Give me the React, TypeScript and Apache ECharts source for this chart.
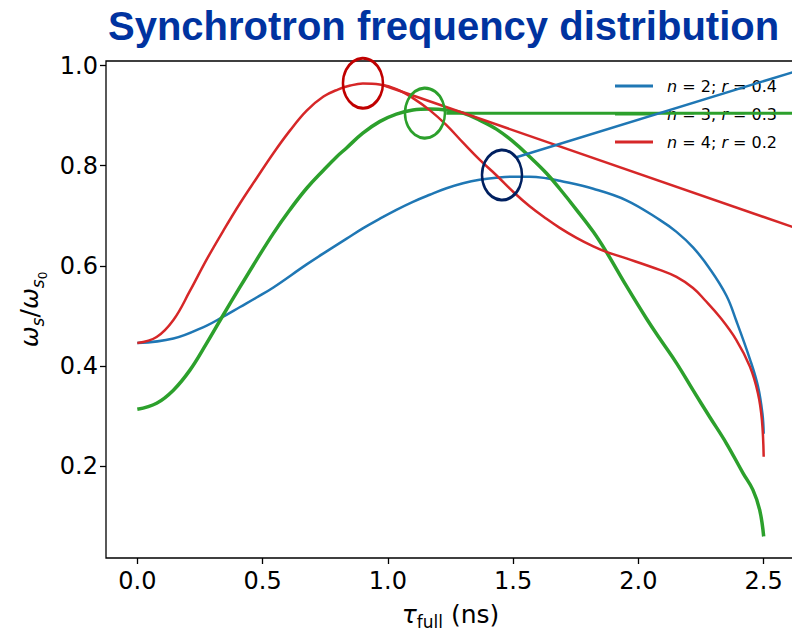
import React, { useEffect, useRef } from "react";
import * as echarts from "echarts";

// Tick values
const xTicks = [0, 0.5, 1.0, 1.5, 2.0, 2.5];
const yTicks = [0.2, 0.4, 0.6, 0.8, 1.0];

// Legend entries
const seriesNames = ["n = 2; r = 0.4", "n = 3; r = 0.3", "n = 4; r = 0.2"];
const legendN = ["2", "3", "4"];
const legendR = ["0.4", "0.3", "0.2"];

// n = 2; r = 0.4 (blue)
const blueX = [0, 0.144, 0.277, 0.337, 0.41, 0.476, 0.543, 0.676, 0.768, 0.834, 0.9, 0.967, 1.034, 1.1, 1.167, 1.234, 1.3, 1.366, 1.433, 1.5, 1.566, 1.633, 1.686, 1.82, 1.952, 2.085, 2.152, 2.218, 2.284, 2.351, 2.391, 2.445, 2.477, 2.495, 2.5];
const blueY = [0.446, 0.455, 0.481, 0.497, 0.518, 0.537, 0.557, 0.603, 0.633, 0.654, 0.675, 0.694, 0.712, 0.728, 0.742, 0.755, 0.765, 0.772, 0.776, 0.778, 0.778, 0.775, 0.77, 0.754, 0.731, 0.692, 0.668, 0.637, 0.595, 0.541, 0.49, 0.414, 0.36, 0.305, 0.265];

// n = 3; r = 0.3 (green)
const greenX = [0, 0.077, 0.144, 0.21, 0.277, 0.337, 0.41, 0.476, 0.543, 0.609, 0.676, 0.743, 0.796, 0.834, 0.9, 0.967, 1.034, 1.1, 1.167, 1.234, 1.3, 1.366, 1.433, 1.5, 1.566, 1.633, 1.686, 1.753, 1.82, 1.872, 1.952, 2.032, 2.085, 2.152, 2.218, 2.284, 2.351, 2.418, 2.457, 2.484, 2.5];
const greenY = [0.314, 0.326, 0.352, 0.392, 0.446, 0.497, 0.558, 0.612, 0.665, 0.712, 0.755, 0.791, 0.818, 0.835, 0.865, 0.888, 0.903, 0.911, 0.913, 0.911, 0.905, 0.891, 0.873, 0.848, 0.818, 0.785, 0.754, 0.712, 0.668, 0.628, 0.56, 0.495, 0.455, 0.406, 0.352, 0.299, 0.246, 0.186, 0.153, 0.113, 0.06];

// n = 4; r = 0.2 (red)
const redX = [0, 0.077, 0.144, 0.21, 0.277, 0.343, 0.41, 0.476, 0.543, 0.609, 0.676, 0.743, 0.8, 0.85, 0.9, 0.967, 1.034, 1.1, 1.167, 1.234, 1.3, 1.366, 1.433, 1.5, 1.566, 1.633, 1.686, 1.753, 1.82, 1.872, 1.952, 2.085, 2.152, 2.218, 2.265, 2.325, 2.391, 2.445, 2.477, 2.493, 2.5];
const redY = [0.446, 0.458, 0.492, 0.55, 0.613, 0.67, 0.725, 0.775, 0.825, 0.87, 0.91, 0.938, 0.952, 0.96, 0.964, 0.962, 0.953, 0.935, 0.911, 0.881, 0.846, 0.812, 0.781, 0.748, 0.719, 0.694, 0.676, 0.656, 0.639, 0.628, 0.615, 0.592, 0.578, 0.556, 0.532, 0.498, 0.452, 0.399, 0.346, 0.292, 0.219];

// Straight annotation lines (start, end)
const blueLineX = [1.513, 2.625];
const blueLineY = [0.817, 0.988];
const greenLineX = [1.233, 2.625];
const greenLineY = [0.9045, 0.9045];
const redLineX = [0.979, 2.625];
const redLineY = [0.961, 0.676];

// Circled peaks (centres)
const redMark = [0.9006, 0.9647];
const greenMark = [1.148, 0.905];
const navyMark = [1.4555, 0.7814];

const BLUE = "#1f77b4";
const GREEN = "#2ca02c";
const RED = "#d62728";
const FONT = "DejaVu Sans";

const pairs = (xs: number[], ys: number[]) => xs.map((x, i) => [x, ys[i]]);

export default function App() {
  const ref = useRef<HTMLDivElement>(null);
  useEffect(() => {
    const chart = echarts.init(ref.current!, null, { renderer: "svg" });

    const curve = (name: string, xs: number[], ys: number[], color: string, width: number, z: number) => ({
      type: "line",
      name,
      data: pairs(xs, ys),
      symbol: "none",
      showSymbol: false,
      smooth: 0.4,
      lineStyle: { color, width },
      itemStyle: { color },
      z,
      silent: true,
    });

    const straight = (xs: number[], ys: number[], color: string, width: number) => ({
      type: "line",
      data: pairs(xs, ys),
      symbol: "none",
      showSymbol: false,
      lineStyle: { color, width },
      itemStyle: { color },
      z: 10,
      silent: true,
    });

    const mark = (pt: number[], color: string) => ({
      type: "scatter",
      data: [pt],
      symbol: "circle",
      symbolSize: [40, 50],
      clip: false,
      itemStyle: { color: "rgba(0,0,0,0)", borderColor: color, borderWidth: 2.8, opacity: 1 },
      z: 11,
      silent: true,
    });

    const subRich = {
      it: { fontFamily: FONT, fontSize: 25, fontStyle: "italic", color: "#000", verticalAlign: "middle", lineHeight: 30 },
      rm: { fontFamily: FONT, fontSize: 25, color: "#000", verticalAlign: "middle", lineHeight: 30 },
      sub: { fontFamily: FONT, fontSize: 17, color: "#000", verticalAlign: "middle", lineHeight: 17, padding: [16, 0, 0, 0] },
      subi: { fontFamily: FONT, fontSize: 17, fontStyle: "italic", color: "#000", verticalAlign: "middle", lineHeight: 17, padding: [16, 0, 0, 0] },
      ss: { fontFamily: FONT, fontSize: 12, color: "#000", verticalAlign: "middle", lineHeight: 12, padding: [26, 0, 0, 0] },
    };

    chart.setOption({
      animation: false,
      backgroundColor: "#fff",
      title: {
        text: "Synchrotron frequency distribution",
        left: 108,
        top: 6,
        padding: 0,
        textStyle: {
          fontFamily: "Liberation Sans, Arial, sans-serif",
          fontSize: 40,
          fontWeight: "bold",
          color: "#0033A0",
        },
      },
      grid: {
        left: 106,
        top: 61,
        width: 689,
        height: 497,
        show: true,
        borderColor: "#000",
        borderWidth: 1.3,
        backgroundColor: "transparent",
        outerBoundsMode: "none",
        containLabel: false,
      },
      legend: {
        data: seriesNames,
        orient: "vertical",
        left: 615,
        top: 76,
        padding: 0,
        itemWidth: 38,
        itemHeight: 3,
        itemGap: 8,
        icon: "rect",
        formatter: (name: string) => {
          const i = seriesNames.indexOf(name);
          return `{i0|n}{t| = ${legendN[i]}; }{i|r}{t| = ${legendR[i]}}`;
        },
        textStyle: {
          fontFamily: FONT,
          fontSize: 16,
          color: "#000",
          lineHeight: 20,
          rich: {
            i0: { fontFamily: FONT, fontSize: 16, fontStyle: "italic", color: "#000", lineHeight: 20, padding: [0, 0, 0, 9] },
            i: { fontFamily: FONT, fontSize: 16, fontStyle: "italic", color: "#000", lineHeight: 20 },
            t: { fontFamily: FONT, fontSize: 16, color: "#000", lineHeight: 20 },
          },
        },
      },
      xAxis: {
        type: "value",
        min: -0.125,
        max: 2.625,
        name: "{it|τ}{sub|full}{rm| (ns)}",
        nameLocation: "middle",
        nameGap: 41,
        nameTextStyle: { rich: subRich },
        axisLine: { show: false, onZero: false },
        splitLine: { show: false },
        axisTick: {
          show: true,
          inside: false,
          length: 6,
          customValues: xTicks,
          lineStyle: { color: "#000", width: 1.3 },
        },
        axisLabel: {
          customValues: xTicks,
          formatter: (v: number) => v.toFixed(1),
          fontFamily: FONT,
          fontSize: 24,
          color: "#000",
          margin: 11,
        },
      },
      yAxis: {
        type: "value",
        min: 0.017,
        max: 1.009,
        name: "{it|ω}{subi|s}{rm|/}{it|ω}{subi|s}{ss|0}",
        nameLocation: "middle",
        nameRotate: 90,
        nameGap: 61,
        nameTextStyle: { rich: subRich },
        axisLine: { show: false, onZero: false },
        splitLine: { show: false },
        axisTick: {
          show: true,
          inside: false,
          length: 6,
          customValues: yTicks,
          lineStyle: { color: "#000", width: 1.3 },
        },
        axisLabel: {
          customValues: yTicks,
          formatter: (v: number) => v.toFixed(1),
          fontFamily: FONT,
          fontSize: 24,
          color: "#000",
          margin: 8,
        },
      },
      series: [
        curve(seriesNames[0], blueX, blueY, BLUE, 2.5, 2),
        curve(seriesNames[1], greenX, greenY, GREEN, 3.5, 3),
        curve(seriesNames[2], redX, redY, RED, 2.5, 4),
        straight(greenLineX, greenLineY, GREEN, 3),
        straight(redLineX, redLineY, RED, 2.5),
        straight(blueLineX, blueLineY, BLUE, 2.5),
        mark(redMark, "#C00000"),
        mark(greenMark, "#2ca02c"),
        mark(navyMark, "#002060"),
      ],
    });

    return () => chart.dispose();
  }, []);

  return (
    <div style={{ position: "fixed", left: 0, top: 0, width: 792, height: 631, overflow: "hidden" }}>
      <div ref={ref} style={{ width: 792, height: 631 }} />
    </div>
  );
}
